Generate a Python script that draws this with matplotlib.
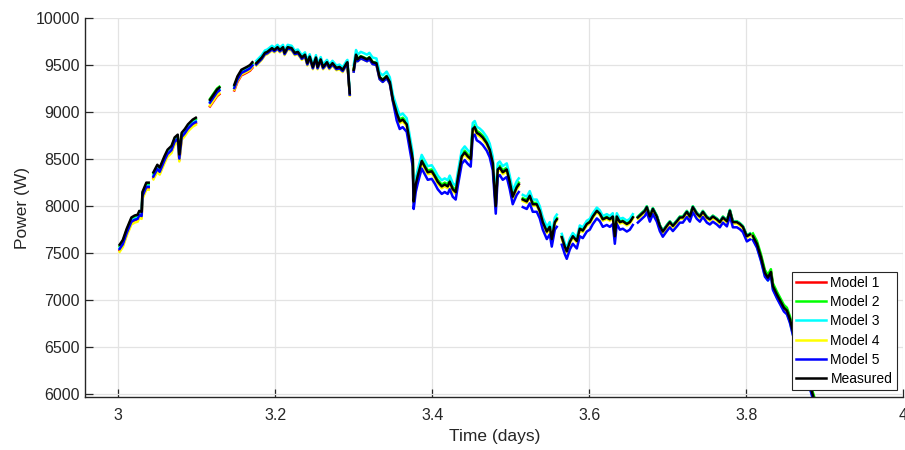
import matplotlib
matplotlib.use("Agg")
import matplotlib.pyplot as plt
import numpy as np

nan = np.nan

# time axis (days), nan rows mark gaps in the logged data
t = [
    3.002, 3.006, 3.011, 3.017, 3.021, 3.025, 3.027, 3.030, 3.031, 3.036, 3.039, 3.042,
    3.045, 3.050, 3.053, 3.059, 3.063, 3.068, 3.072, 3.076, 3.078, 3.081, 3.085, 3.089, 3.095, 3.099, 3.108,
    3.117, 3.122, 3.126, 3.129, 3.140,
    3.148, 3.152, 3.157, 3.164, 3.168, 3.171, 3.174,
    3.176, 3.183, 3.187, 3.190, 3.196, 3.199, 3.203, 3.206, 3.210, 3.212, 3.216, 3.221, 3.225, 3.229, 3.234, 3.238,
    3.241, 3.244, 3.248, 3.252, 3.254, 3.258, 3.261, 3.266, 3.269, 3.273, 3.278, 3.282, 3.286, 3.291, 3.292, 3.295, 3.297,
    3.300, 3.303, 3.305, 3.309, 3.312, 3.317, 3.320, 3.324, 3.329, 3.333, 3.337, 3.342, 3.346, 3.350,
    3.3548, 3.3586, 3.3624, 3.3675, 3.3713, 3.3752, 3.3764, 3.3790, 3.3815, 3.3866, 3.3904, 3.3943, 3.3994, 3.4032, 3.4070,
    3.4121, 3.4159, 3.4197, 3.4223, 3.4261, 3.4299, 3.4325, 3.4376, 3.4414, 3.4452, 3.4490, 3.4516, 3.4541, 3.4567, 3.4605,
    3.4643, 3.4694, 3.4732, 3.4771, 3.4809, 3.4834, 3.4860, 3.4898, 3.4949, 3.4987, 3.5025, 3.5076, 3.5102, 3.5125,
    3.5153, 3.5204, 3.5242, 3.5280, 3.5331, 3.5369, 3.5408, 3.5459, 3.5497, 3.5522, 3.5561, 3.5586, 3.5620,
    3.5650, 3.5688, 3.5713, 3.5752, 3.5790, 3.5841, 3.5879, 3.5917, 3.5968, 3.6006, 3.6045, 3.6096, 3.6134, 3.6172,
    3.6223, 3.6261, 3.6299, 3.6325, 3.6350, 3.6389, 3.6427, 3.6478, 3.6516, 3.6554, 3.6586,
    3.6618, 3.6669, 3.6707, 3.6732, 3.6771, 3.6809, 3.6860, 3.6898, 3.6936, 3.6987, 3.7025, 3.7064, 3.7115, 3.7153, 3.7191,
    3.7242, 3.7280, 3.7318, 3.7369, 3.7408, 3.7446, 3.7497, 3.7535, 3.7573, 3.7624, 3.7662, 3.7701, 3.7752, 3.7790, 3.7828,
    3.7879, 3.7917, 3.7955, 3.8006, 3.8045, 3.8070,
    3.8083, 3.8134, 3.8185, 3.8236, 3.8274, 3.8312, 3.8338, 3.8389, 3.8427, 3.8478, 3.8516, 3.8554, 3.8592, 3.8682, 3.8758,
    3.8847, 3.8898,
]

measured = [
    7590, 7640, 7760, 7880, 7900, 7910, 7950, 7940, 8150, 8250, 8250, nan,
    8360, 8440, 8410, 8530, 8600, 8640, 8730, 8760, 8550, 8780, 8820, 8870, 8920, 8940, nan,
    9130, 9190, 9240, 9260, nan,
    9290, 9380, 9450, 9480, 9500, 9530, nan,
    9520, 9580, 9630, 9640, 9680, 9660, 9690, 9660, 9690, 9630, 9690, 9680, 9630, 9640, 9580, 9610,
    9520, 9590, 9480, 9580, 9480, 9560, 9480, 9530, 9480, 9520, 9470, 9480, 9450, 9520, 9530, 9200, nan,
    9450, 9610, 9560, 9590, 9580, 9560, 9580, 9530, 9520, 9370, 9340, 9380, 9320, 9130,
    8990, 8900, 8920, 8870, 8690, 8500, 8050, 8230, 8320, 8480, 8420, 8360, 8370, 8320, 8260,
    8210, 8230, 8210, 8260, 8180, 8150, 8290, 8530, 8570, 8530, 8500, 8820, 8840, 8780, 8760,
    8730, 8670, 8600, 8460, 8000, 8390, 8410, 8360, 8390, 8260, 8100, 8200, 8230, nan,
    8070, 8050, 8110, 8020, 8020, 7950, 7830, 7730, 7780, 7650, 7830, 7860, nan,
    7670, 7570, 7520, 7620, 7680, 7630, 7760, 7740, 7810, 7830, 7890, 7950, 7920, 7860,
    7880, 7860, 7890, 7680, 7890, 7830, 7840, 7810, 7830, 7880, nan,
    7880, 7920, 7950, 7990, 7890, 7970, 7890, 7790, 7730, 7790, 7830, 7790, 7840, 7880, 7880,
    7940, 7890, 7990, 7920, 7890, 7940, 7880, 7860, 7890, 7860, 7830, 7880, 7840, 7950, 7830,
    7830, 7810, 7780, 7680, 7700, nan,
    7680, 7600, 7460, 7290, 7240, 7300, 7150, 7060, 7000, 6920, 6890, 6800, 6670, 6450, 6250,
    5990, 5850,
]

model1 = [
    7530, 7580, 7700, 7820, 7840, 7850, 7890, 7880, 8090, 8190, 8190, nan,
    8300, 8380, 8350, 8470, 8540, 8580, 8670, 8700, 8490, 8720, 8760, 8810, 8860, 8880, nan,
    9060, 9120, 9170, 9190, nan,
    9230, 9320, 9390, 9420, 9440, 9470, nan,
    9510, 9570, 9620, 9630, 9670, 9650, 9680, 9650, 9680, 9620, 9680, 9670, 9620, 9630, 9570, 9600,
    9510, 9580, 9470, 9570, 9470, 9550, 9470, 9520, 9470, 9510, 9460, 9470, 9440, 9510, 9520, 9190, nan,
    9440, 9600, 9550, 9580, 9570, 9550, 9570, 9520, 9510, 9360, 9330, 9370, 9310, 9120,
    8995, 8905, 8925, 8875, 8695, 8505, 8055, 8235, 8325, 8485, 8425, 8365, 8375, 8325, 8265,
    8215, 8235, 8215, 8265, 8185, 8155, 8295, 8535, 8575, 8535, 8505, 8825, 8845, 8785, 8765,
    8735, 8675, 8605, 8465, 8005, 8395, 8415, 8365, 8395, 8265, 8105, 8205, 8235, nan,
    8075, 8055, 8115, 8025, 8025, 7955, 7835, 7735, 7785, 7655, 7835, 7865, nan,
    7670, 7570, 7520, 7620, 7680, 7630, 7760, 7740, 7810, 7830, 7890, 7950, 7920, 7860,
    7880, 7860, 7890, 7680, 7890, 7830, 7840, 7810, 7830, 7880, nan,
    7880, 7920, 7950, 7990, 7890, 7970, 7890, 7790, 7730, 7790, 7830, 7790, 7840, 7880, 7880,
    7940, 7890, 7990, 7920, 7890, 7940, 7880, 7860, 7890, 7860, 7830, 7880, 7840, 7950, 7830,
    7830, 7810, 7780, 7680, 7700, nan,
    7690, 7610, 7470, 7300, 7250, 7310, 7160, 7070, 7010, 6930, 6900, 6810, 6680, 6460, 6260,
    6000, 5860,
]

model2 = [
    7575, 7625, 7745, 7865, 7885, 7895, 7935, 7925, 8135, 8235, 8235, nan,
    8345, 8425, 8395, 8515, 8585, 8625, 8715, 8745, 8535, 8765, 8805, 8855, 8905, 8925, nan,
    9140, 9200, 9250, 9270, nan,
    9275, 9365, 9435, 9465, 9485, 9515, nan,
    9515, 9575, 9625, 9635, 9675, 9655, 9685, 9655, 9685, 9625, 9685, 9675, 9625, 9635, 9575, 9605,
    9515, 9585, 9475, 9575, 9475, 9555, 9475, 9525, 9475, 9515, 9465, 9475, 9445, 9515, 9525, 9195, nan,
    9455, 9615, 9565, 9595, 9585, 9565, 9585, 9535, 9525, 9375, 9345, 9385, 9325, 9135,
    9010, 8920, 8940, 8890, 8710, 8520, 8070, 8250, 8340, 8500, 8440, 8380, 8390, 8340, 8280,
    8230, 8250, 8230, 8280, 8200, 8170, 8310, 8550, 8590, 8550, 8520, 8840, 8860, 8800, 8780,
    8750, 8690, 8620, 8480, 8020, 8410, 8430, 8380, 8410, 8280, 8120, 8220, 8250, nan,
    8085, 8065, 8125, 8035, 8035, 7965, 7845, 7745, 7795, 7665, 7845, 7875, nan,
    7680, 7580, 7530, 7630, 7690, 7640, 7770, 7750, 7820, 7840, 7900, 7960, 7930, 7870,
    7890, 7870, 7900, 7690, 7900, 7840, 7850, 7820, 7840, 7890, nan,
    7890, 7930, 7960, 8000, 7900, 7980, 7900, 7800, 7740, 7800, 7840, 7800, 7850, 7890, 7890,
    7950, 7900, 8000, 7930, 7900, 7950, 7890, 7870, 7900, 7870, 7840, 7890, 7850, 7960, 7840,
    7840, 7820, 7790, 7690, 7710, nan,
    7710, 7630, 7490, 7320, 7270, 7330, 7180, 7090, 7030, 6950, 6920, 6830, 6700, 6480, 6280,
    6020, 5880,
]

model3 = [
    7555, 7605, 7725, 7845, 7865, 7875, 7915, 7905, 8115, 8215, 8215, nan,
    8325, 8405, 8375, 8495, 8565, 8605, 8695, 8725, 8515, 8745, 8785, 8835, 8885, 8905, nan,
    9110, 9170, 9220, 9240, nan,
    9260, 9350, 9420, 9450, 9470, 9500, nan,
    9545, 9605, 9655, 9665, 9705, 9685, 9715, 9685, 9715, 9655, 9715, 9705, 9655, 9665, 9605, 9635,
    9545, 9615, 9505, 9605, 9505, 9585, 9505, 9555, 9505, 9545, 9495, 9505, 9475, 9545, 9555, 9225, nan,
    9500, 9660, 9610, 9640, 9630, 9610, 9630, 9580, 9570, 9420, 9390, 9430, 9370, 9180,
    9055, 8965, 8985, 8935, 8755, 8565, 8115, 8295, 8385, 8545, 8485, 8425, 8435, 8385, 8325,
    8275, 8295, 8275, 8325, 8245, 8215, 8355, 8595, 8635, 8595, 8565, 8885, 8905, 8845, 8825,
    8795, 8735, 8665, 8525, 8065, 8455, 8475, 8425, 8455, 8325, 8165, 8265, 8295, nan,
    8120, 8100, 8160, 8070, 8070, 8000, 7880, 7780, 7830, 7700, 7880, 7910, nan,
    7705, 7605, 7555, 7655, 7715, 7665, 7795, 7775, 7845, 7865, 7925, 7985, 7955, 7895,
    7915, 7895, 7925, 7715, 7925, 7865, 7875, 7845, 7865, 7915, nan,
    7885, 7925, 7955, 7995, 7895, 7975, 7895, 7795, 7735, 7795, 7835, 7795, 7845, 7885, 7885,
    7945, 7895, 7995, 7925, 7895, 7945, 7885, 7865, 7895, 7865, 7835, 7885, 7845, 7955, 7835,
    7835, 7815, 7785, 7685, 7705, nan,
    7650, 7570, 7430, 7260, 7210, 7270, 7120, 7030, 6970, 6890, 6860, 6770, 6640, 6420, 6220,
    5960, 5820,
]

model4 = [
    7515, 7565, 7685, 7805, 7825, 7835, 7875, 7865, 8075, 8175, 8175, nan,
    8285, 8365, 8335, 8455, 8525, 8565, 8655, 8685, 8475, 8705, 8745, 8795, 8845, 8865, nan,
    9070, 9130, 9180, 9200, nan,
    9240, 9330, 9400, 9430, 9450, 9480, nan,
    9495, 9555, 9605, 9615, 9655, 9635, 9665, 9635, 9665, 9605, 9665, 9655, 9605, 9615, 9555, 9585,
    9495, 9565, 9455, 9555, 9455, 9535, 9455, 9505, 9455, 9495, 9445, 9455, 9425, 9495, 9505, 9175, nan,
    9430, 9590, 9540, 9570, 9560, 9540, 9560, 9510, 9500, 9350, 9320, 9360, 9300, 9110,
    8970, 8880, 8900, 8850, 8670, 8480, 8030, 8210, 8300, 8460, 8400, 8340, 8350, 8300, 8240,
    8190, 8210, 8190, 8240, 8160, 8130, 8270, 8510, 8550, 8510, 8480, 8800, 8820, 8760, 8740,
    8710, 8650, 8580, 8440, 7980, 8370, 8390, 8340, 8370, 8240, 8080, 8180, 8210, nan,
    8055, 8035, 8095, 8005, 8005, 7935, 7815, 7715, 7765, 7635, 7815, 7845, nan,
    7655, 7555, 7505, 7605, 7665, 7615, 7745, 7725, 7795, 7815, 7875, 7935, 7905, 7845,
    7865, 7845, 7875, 7665, 7875, 7815, 7825, 7795, 7815, 7865, nan,
    7865, 7905, 7935, 7975, 7875, 7955, 7875, 7775, 7715, 7775, 7815, 7775, 7825, 7865, 7865,
    7925, 7875, 7975, 7905, 7875, 7925, 7865, 7845, 7875, 7845, 7815, 7865, 7825, 7935, 7815,
    7815, 7795, 7765, 7665, 7685, nan,
    7660, 7580, 7440, 7270, 7220, 7280, 7130, 7040, 6980, 6900, 6870, 6780, 6650, 6430, 6230,
    5970, 5830,
]

model5 = [
    7545, 7595, 7715, 7835, 7855, 7865, 7905, 7895, 8105, 8205, 8205, nan,
    8315, 8395, 8365, 8485, 8555, 8595, 8685, 8715, 8505, 8735, 8775, 8825, 8875, 8895, nan,
    9100, 9160, 9210, 9230, nan,
    9255, 9345, 9415, 9445, 9465, 9495, nan,
    9505, 9565, 9615, 9625, 9665, 9645, 9675, 9645, 9675, 9615, 9675, 9665, 9615, 9625, 9565, 9595,
    9505, 9575, 9465, 9565, 9465, 9545, 9465, 9515, 9465, 9505, 9455, 9465, 9435, 9505, 9515, 9185, nan,
    9430, 9590, 9540, 9570, 9560, 9540, 9560, 9510, 9500, 9350, 9320, 9360, 9300, 9110,
    8910, 8820, 8840, 8790, 8610, 8420, 7970, 8150, 8240, 8400, 8340, 8280, 8290, 8240, 8180,
    8130, 8150, 8130, 8180, 8100, 8070, 8210, 8450, 8490, 8450, 8420, 8740, 8760, 8700, 8680,
    8650, 8590, 8520, 8380, 7920, 8310, 8330, 8280, 8310, 8180, 8020, 8120, 8150, nan,
    7990, 7970, 8030, 7940, 7940, 7870, 7750, 7650, 7700, 7570, 7750, 7780, nan,
    7590, 7490, 7440, 7540, 7600, 7550, 7680, 7660, 7730, 7750, 7810, 7870, 7840, 7780,
    7800, 7780, 7810, 7600, 7810, 7750, 7760, 7730, 7750, 7800, nan,
    7825, 7865, 7895, 7935, 7835, 7915, 7835, 7735, 7675, 7735, 7775, 7735, 7785, 7825, 7825,
    7885, 7835, 7935, 7865, 7835, 7885, 7825, 7805, 7835, 7805, 7775, 7825, 7785, 7895, 7775,
    7775, 7755, 7725, 7625, 7645, nan,
    7640, 7560, 7420, 7250, 7210, 7260, 7110, 7020, 6960, 6880, 6850, 6760, 6630, 6410, 6210,
    5950, 5810,
]

labels = ["Model 1", "Model 2", "Model 3", "Model 4", "Model 5", "Measured"]
colors = ["#ff0000", "#00ff00", "#00ffff", "#ffff00", "#0000ff", "#000000"]
series = [model1, model2, model3, model4, model5, measured]

for s in series:
    assert len(s) == len(t), (len(s), len(t))

plt.rcParams["font.family"] = ["Liberation Sans", "DejaVu Sans"]

fig = plt.figure(figsize=(9.05, 4.5), dpi=100)
ax = fig.add_axes([0.0943, 0.1171, 0.9040, 0.8429])

for s, c, lab in zip(series, colors, labels):
    ax.plot(t, s, color=c, lw=1.8, label=lab)

ax.set_xlim(3 - 1 / 24, 4.0)
ax.set_ylim(5968, 10000)
ax.set_xticks([3, 3.2, 3.4, 3.6, 3.8, 4])
ax.set_xticklabels(["3", "3.2", "3.4", "3.6", "3.8", "4"])
ax.set_yticks(np.arange(6000, 10001, 500))

ax.grid(True, color="#e3e3e3", lw=0.9)
ax.set_axisbelow(True)
for side in ["top", "right"]:
    ax.spines[side].set_visible(False)
for side in ["left", "bottom"]:
    ax.spines[side].set_color("#262626")
    ax.spines[side].set_linewidth(1.0)
ax.tick_params(direction="in", length=6, width=0.9, colors="#262626", labelsize=11.5)
ax.tick_params(axis="x", pad=8)
ax.tick_params(axis="y", pad=4)

ax.set_xlabel("Time (days)", fontsize=12.5, color="#262626", labelpad=4)
ax.set_ylabel("Power (W)", fontsize=12.5, color="#262626", labelpad=4)

leg = ax.legend(loc="lower right", fontsize=10, fancybox=False, framealpha=1,
                edgecolor="#262626", handlelength=2.2, handletextpad=0.3,
                labelspacing=0.38, borderpad=0.3, borderaxespad=0.5)
leg.get_frame().set_linewidth(0.8)

fig.savefig("out.png", dpi=100)
